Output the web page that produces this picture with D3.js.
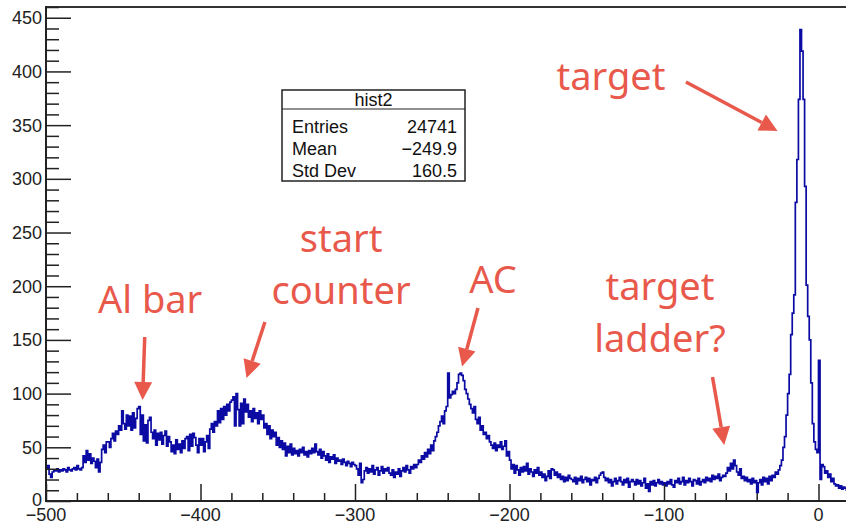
<!DOCTYPE html>
<html>
<head>
<meta charset="utf-8">
<script src="https://cdn.jsdelivr.net/npm/d3@7"></script>
<style>
  html, body { margin: 0; padding: 0; background: #fff; }
  svg { display: block; }
</style>
</head>
<body>
<svg id="chart" width="846" height="524"></svg>
<script>
// hist2: counts per 1-unit bin, from -500 up to +20 (rows of 20 bins)
const binStart = -500;
const binWidth = 1;
const counts = [
  30, 33, 25, 22, 27, 29, 28, 30, 27, 29, 28, 30, 29, 27, 31, 29, 28, 30, 31, 29,
  33, 30, 29, 31, 42, 36, 47, 38, 44, 35, 40, 37, 31, 39, 27, 36, 48, 52, 45, 55,
  55, 50, 58, 63, 56, 65, 62, 70, 66, 84, 72, 67, 80, 70, 79, 66, 82, 68, 77, 86,
  88, 62, 80, 56, 71, 54, 75, 78, 64, 58, 66, 52, 63, 57, 64, 53, 61, 65, 51, 60,
  55, 46, 52, 44, 57, 48, 53, 45, 56, 49, 58, 60, 47, 62, 51, 63, 59, 52, 45, 58,
  52, 58, 46, 55, 61, 49, 67, 72, 64, 74, 70, 84, 73, 86, 76, 88, 80, 90, 84, 92,
  94, 97, 70, 100, 85, 70, 91, 72, 95, 83, 90, 78, 84, 74, 86, 77, 82, 72, 84, 76,
  80, 68, 72, 62, 70, 58, 66, 60, 64, 52, 59, 50, 56, 48, 54, 42, 51, 45, 53, 43,
  49, 44, 47, 42, 48, 45, 50, 43, 46, 41, 47, 44, 49, 45, 53, 46, 43, 48, 40, 46,
  42, 38, 44, 36, 41, 39, 43, 35, 40, 37, 38, 34, 39, 36, 33, 37, 35, 32, 36, 34,
  33, 30, 24, 35, 17, 20, 28, 31, 26, 30, 27, 33, 25, 29, 31, 24, 28, 32, 26, 30,
  28, 31, 26, 24, 29, 22, 27, 25, 30, 23, 28, 31, 27, 33, 29, 26, 32, 30, 34, 31,
  34, 38, 36, 42, 39, 45, 41, 48, 44, 52, 47, 56, 60, 64, 70, 74, 79, 72, 84, 88,
  119, 96, 99, 102, 100, 104, 110, 118, 119, 117, 112, 104, 100, 95, 90, 86, 82, 88, 76, 72,
  78, 66, 70, 62, 64, 58, 61, 55, 52, 49, 54, 47, 52, 50, 55, 48, 51, 56, 42, 46,
  38, 30, 34, 26, 33, 29, 24, 31, 27, 32, 28, 35, 25, 30, 27, 23, 29, 26, 31, 24,
  27, 22, 25, 19, 23, 28, 21, 30, 29, 24, 27, 22, 25, 20, 23, 18, 22, 19, 24, 21,
  20, 18, 22, 16, 21, 19, 23, 17, 20, 22, 18, 21, 15, 20, 19, 22, 17, 21, 24, 26,
  27, 22, 19, 21, 17, 20, 14, 18, 21, 16, 19, 22, 18, 15, 20, 17, 21, 13, 18, 20,
  18, 15, 20, 16, 19, 14, 17, 21, 12, 16, 9, 18, 15, 19, 14, 17, 20, 16, 18, 15,
  17, 14, 18, 16, 20, 15, 13, 19, 17, 21, 16, 18, 22, 15, 19, 17, 21, 18, 14, 20,
  19, 16, 21, 15, 18, 20, 17, 22, 19, 21, 18, 24, 20, 23, 21, 25, 19, 22, 24, 23,
  26, 31, 28, 35, 30, 38, 33, 27, 24, 30, 21, 23, 19, 22, 18, 20, 16, 21, 17, 19,
  8, 17, 20, 15, 22, 18, 21, 16, 23, 19, 24, 22, 27, 25, 29, 33, 38, 50, 60, 80,
  100, 118, 155, 175, 192, 278, 318, 374, 439, 419, 374, 293, 201, 172, 150, 110, 72, 55, 48, 45,
  131, 20, 34, 32, 26, 28, 22, 25, 18, 21, 16, 14, 15, 12, 14, 11, 13, 12, 10, 12
];

// axis ranges and tick labels
const xDomain = [-500, 20];
const yDomain = [0, 460];
const xMajorTicks = [-500, -400, -300, -200, -100, 0];
const yMajorTicks = [0, 50, 100, 150, 200, 250, 300, 350, 400, 450];

// statistics box rows
const statsTitle = "hist2";
const statsLabels = ["Entries", "Mean", "Std Dev"];
const statsValues = ["24741", "\u2212249.9", "160.5"];

// annotation labels (lines of text)
const noteLabels = [["Al bar"], ["start", "counter"], ["AC"], ["target", "ladder?"], ["target"]];

const svg = d3.select("#chart");
const margin = { left: 46, top: 7, bottom: 501 };
const pxPerUnit = 1.545;

const x = d3.scaleLinear()
  .domain(xDomain)
  .range([margin.left, margin.left + (xDomain[1] - xDomain[0]) * pxPerUnit]);
const y = d3.scaleLinear()
  .domain(yDomain)
  .range([margin.bottom, margin.top]);

const plotRight = 846 + 10;

svg.append("defs").append("clipPath").attr("id", "plotclip")
  .append("rect")
  .attr("x", margin.left).attr("y", margin.top)
  .attr("width", plotRight - margin.left).attr("height", margin.bottom - margin.top);

// histogram as a step outline
const pts = [[binStart, 0]];
counts.forEach((c, i) => pts.push([binStart + i * binWidth, c]));
pts.push([binStart + counts.length * binWidth, counts[counts.length - 1]]);

const stepLine = d3.line()
  .x(d => x(d[0]))
  .y(d => y(d[1]))
  .curve(d3.curveStepAfter);

svg.append("path")
  .datum(pts)
  .attr("clip-path", "url(#plotclip)")
  .attr("d", stepLine)
  .attr("fill", "none")
  .attr("stroke", "#0b0ba3")
  .attr("stroke-width", 1.7)
  .attr("stroke-linejoin", "miter");

// frame: top edge
svg.append("line")
  .attr("x1", margin.left).attr("x2", plotRight)
  .attr("y1", margin.top).attr("y2", margin.top)
  .attr("stroke", "#333").attr("stroke-width", 2);

// x axis with inward ticks
const tickFont = "Liberation Sans, Arial, Helvetica, sans-serif";
const xMinor = d3.range(xDomain[0], xDomain[1] + 1, 20).filter(v => v % 100 !== 0);
const xAxisMajor = d3.axisTop(x).tickValues(xMajorTicks).tickSize(17).tickFormat("");
const xAxisMinor = d3.axisTop(x).tickValues(xMinor).tickSize(8).tickFormat("");
const gx = svg.append("g").attr("transform", `translate(0,${margin.bottom})`);
gx.append("g").call(xAxisMajor);
gx.append("g").call(xAxisMinor);
gx.selectAll("path.domain").attr("stroke", "#222").attr("stroke-width", 2)
  .attr("d", `M${margin.left},0H${plotRight}`);
gx.selectAll(".tick line").attr("stroke", "#222").attr("stroke-width", 1.5);

svg.append("g").selectAll("text")
  .data(xMajorTicks)
  .join("text")
  .attr("x", d => x(d))
  .attr("y", 521)
  .attr("text-anchor", "middle")
  .attr("font-family", tickFont)
  .attr("font-size", 18)
  .attr("fill", "#222")
  .text(d => d3.format("d")(d).replace("-", "\u2212"));

// y axis with inward ticks
const yMinor = d3.range(0, 461, 10).filter(v => v % 50 !== 0);
const yAxisMajor = d3.axisRight(y).tickValues(yMajorTicks).tickSize(25).tickFormat("");
const yAxisMinor = d3.axisRight(y).tickValues(yMinor).tickSize(13).tickFormat("");
const gy = svg.append("g").attr("transform", `translate(${margin.left},0)`);
gy.append("g").call(yAxisMajor);
gy.append("g").call(yAxisMinor);
gy.selectAll("path.domain").attr("stroke", "#222").attr("stroke-width", 2)
  .attr("d", `M0,${margin.bottom + 1}V${margin.top - 1}`);
gy.selectAll(".tick line").attr("stroke", "#222").attr("stroke-width", 1.5);

svg.append("g").selectAll("text")
  .data(yMajorTicks)
  .join("text")
  .attr("x", 42)
  .attr("y", d => y(d) + (d === 0 ? 4.5 : 6.5))
  .attr("text-anchor", "end")
  .attr("font-family", tickFont)
  .attr("font-size", 18)
  .attr("fill", "#222")
  .text(d => d);

// statistics box
const box = { x: 282, y: 90, w: 183, h: 91, head: 19 };
const gs = svg.append("g");
gs.append("rect")
  .attr("x", box.x).attr("y", box.y).attr("width", box.w).attr("height", box.h)
  .attr("fill", "#fff").attr("stroke", "#222").attr("stroke-width", 1.5);
gs.append("line")
  .attr("x1", box.x).attr("x2", box.x + box.w)
  .attr("y1", box.y + box.head).attr("y2", box.y + box.head)
  .attr("stroke", "#222").attr("stroke-width", 1.2);
gs.append("text")
  .attr("x", box.x + box.w / 2).attr("y", box.y + 16)
  .attr("text-anchor", "middle")
  .attr("font-family", tickFont).attr("font-size", 18).attr("fill", "#111")
  .text(statsTitle);
statsLabels.forEach((lab, i) => {
  const yy = box.y + 43 + i * 22;
  gs.append("text")
    .attr("x", box.x + 10).attr("y", yy)
    .attr("font-family", tickFont).attr("font-size", 18).attr("fill", "#111")
    .text(lab);
  gs.append("text")
    .attr("x", box.x + box.w - 8).attr("y", yy)
    .attr("text-anchor", "end")
    .attr("font-family", tickFont).attr("font-size", 18).attr("fill", "#111")
    .text(statsValues[i]);
});

// annotations: text anchor and arrow (tail -> tip) in data units
const noteColor = "#e8594c";
const notePlacement = [
  { tx: -432.6, ty: 175, from: [-436.1, 152.7], to: [-437.5, 94] },
  { tx: -309, ty: 231.9, from: [-358.3, 166.7], to: [-370.2, 114.5] },
  { tx: -210.7, ty: 193.7, from: [-220.4, 179.7], to: [-230.7, 125.2] },
  { tx: -102.6, ty: 187.2, from: [-68.6, 115.5], to: [-61, 52.1] },
  { tx: -134.3, ty: 382.7, from: [-85.8, 390.2], to: [-26.5, 344.5] }
];
const lineGap = 52;
const ga = svg.append("g");
noteLabels.forEach((lines, k) => {
  const p = notePlacement[k];
  lines.forEach((t, j) => {
    ga.append("text")
      .attr("x", x(p.tx)).attr("y", y(p.ty) + j * lineGap)
      .attr("text-anchor", "middle")
      .attr("font-family", "Noto Sans, Open Sans, sans-serif")
      .attr("font-size", 38)
      .attr("fill", noteColor)
      .text(t);
  });
  const x0 = x(p.from[0]), y0 = y(p.from[1]);
  const x1 = x(p.to[0]), y1 = y(p.to[1]);
  const ang = Math.atan2(y1 - y0, x1 - x0);
  const headLen = 18, headHalf = 9;
  const bx = x1 - headLen * Math.cos(ang), by = y1 - headLen * Math.sin(ang);
  ga.append("line")
    .attr("x1", x0).attr("y1", y0).attr("x2", bx).attr("y2", by)
    .attr("stroke", noteColor).attr("stroke-width", 3.5);
  const nx = -Math.sin(ang), ny = Math.cos(ang);
  ga.append("path")
    .attr("d", `M${x1},${y1}L${bx + nx * headHalf},${by + ny * headHalf}L${bx - nx * headHalf},${by - ny * headHalf}Z`)
    .attr("fill", noteColor);
});
</script>
</body>
</html>
